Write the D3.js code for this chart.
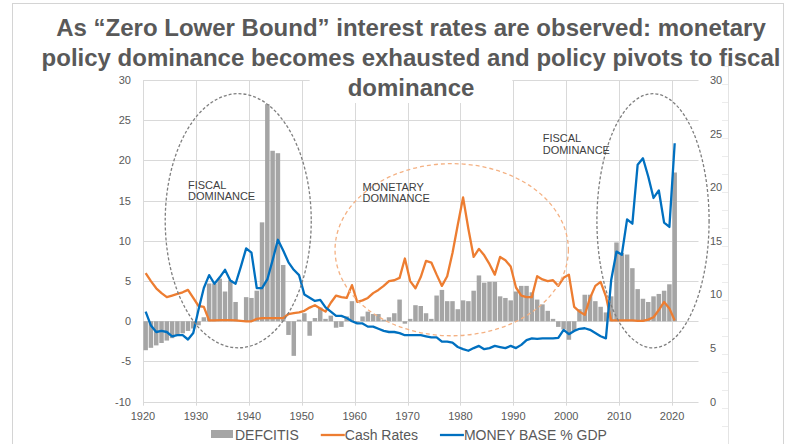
<!DOCTYPE html>
<html>
<head>
<meta charset="utf-8">
<script src="https://cdn.jsdelivr.net/npm/d3@7"></script>
<style>
  body { margin: 0; background: #fff; }
  svg { display: block; font-family: "Liberation Sans", Arial, sans-serif; }
</style>
</head>
<body>
<svg id="chart" width="795" height="444"></svg>
<script>
// ---- data ----
const years = d3.range(1920, 2021);

// federal deficit, % GDP (left axis), 1920..2020
const deficits = [
  -3.6, -3.3, -3.0, -2.7, -2.4, -2.1, -1.8, -1.5, -1.2, -0.9,
  -0.5, 0.5, 4.7, 4.7, 5.3, 3.7, 5.1, 2.4, 0.1, 3.0,
  2.9, 3.8, 12.3, 27.0, 21.2, 20.9, 7.0, -1.7, -4.3, 0.2,
  1.0, -1.8, 0.4, 1.7, 0.3, 0.7, -0.8, -0.7, 0.6, 2.5,
  -0.1, 0.6, 1.2, 0.9, 0.9, 0.2, 0.5, 1.0, 2.7, -0.3,
  0.3, 2.0, 1.9, 1.0, 0.3, 3.2, 3.9, 2.5, 2.5, 1.5,
  2.6, 2.5, 3.8, 5.7, 4.8, 4.9, 4.9, 3.1, 2.9, 2.6,
  3.7, 4.4, 4.4, 3.6, 2.7, 2.1, 1.3, 0.3, -0.7, -1.0,
  -2.3, -1.2, 1.5, 3.3, 3.3, 2.5, 1.8, 1.1, 3.1, 9.8,
  8.5, 8.3, 6.6, 4.0, 2.8, 2.4, 3.1, 3.4, 3.8, 4.6,
  18.5
];

// cash rate, % (left axis)
const cashRates = [
  6.0, 5.0, 4.1, 3.5, 3.0, 3.2, 3.4, 3.6, 3.9, 2.9,
  1.9, 1.8, 0.1, 0.1, 0.15, 0.15, 0.15, 0.1, 0.05, 0.0,
  0.0, 0.3, 0.4, 0.4, 0.4, 0.4, 0.4, 0.9, 1.0, 1.1,
  1.3, 1.7, 2.0, 1.6, 1.2, 2.3, 3.2, 3.0, 2.9, 4.5,
  2.4, 2.6, 2.9, 3.5, 3.9, 4.4, 5.0, 5.1, 5.4, 7.8,
  5.0, 4.1, 5.5, 7.5, 7.3, 5.8, 4.4, 5.6, 8.5, 12.0,
  15.4, 11.5, 8.0, 9.0, 8.2, 7.1, 5.8, 8.0, 7.6, 6.8,
  4.2, 3.2, 3.0, 3.0, 5.6, 5.2, 5.0, 5.1, 4.4, 5.4,
  5.8, 1.8, 1.2, 0.8, 2.9, 4.4, 4.9, 3.1, 0.1, 0.1,
  0.1, 0.1, 0.1, 0.05, 0.05, 0.2, 0.5, 1.4, 2.4, 1.6,
  0.1
];

// money base, % GDP (right axis)
const moneyBase = [
  8.4, 7.1, 6.5, 6.6, 6.5, 6.1, 6.2, 6.2, 5.8, 6.4,
  8.6, 10.6, 11.8, 11.0, 11.6, 12.3, 11.3, 11.0, 12.6, 14.3,
  13.9, 10.6, 10.6, 11.4, 13.2, 15.1, 14.1, 13.0, 12.3, 11.8,
  10.0, 9.7, 9.4, 9.5, 8.8, 8.4, 8.0, 8.0, 7.8, 7.5,
  7.3, 7.3, 7.0, 7.0, 6.8, 6.6, 6.5, 6.5, 6.4, 6.2,
  6.2, 6.2, 6.2, 6.1, 6.0, 6.0, 5.6, 5.6, 5.5, 5.1,
  4.9, 4.75, 5.0, 5.2, 4.9, 5.0, 5.2, 5.1, 5.0, 5.2,
  5.0, 5.3, 5.75, 5.9, 5.85, 5.9, 5.9, 5.9, 5.95, 6.7,
  6.3, 6.6, 6.8, 6.85, 6.7, 6.4, 6.1, 5.9, 11.35, 14.0,
  13.7, 17.0, 16.6, 22.1, 22.7, 21.0, 19.0, 19.7, 16.7, 16.3,
  24.1
];

const leftTicks = [-10, -5, 0, 5, 10, 15, 20, 25, 30];
const rightTicks = [0, 5, 10, 15, 20, 25, 30];
const yearTicks = [1920, 1930, 1940, 1950, 1960, 1970, 1980, 1990, 2000, 2010, 2020];

const titleLines = [
  'As “Zero Lower Bound” interest rates are observed: monetary',
  'policy dominance becomes exhausted and policy pivots to fiscal',
  'dominance'
];

const seriesNames = ['DEFCITIS', 'Cash Rates', 'MONEY BASE % GDP'];

// regimes marked on the chart, in year / left-axis units
const regimes = [
  { cx: 1938.0, cy: 12.5, rx: 13.8, ry: 15.8, kind: 'fiscal' },
  { cx: 1978.35, cy: 8.9, rx: 22.05, ry: 10.7, kind: 'monetary' },
  { cx: 2016.4, cy: 12.5, rx: 10.6, ry: 15.8, kind: 'fiscal' }
];
const regimeNotes = [
  { year: 1928.5, value: 16.5, lines: ['FISCAL', 'DOMINANCE'] },
  { year: 1961.5, value: 16.25, lines: ['MONETARY', 'DOMINANCE'] },
  { year: 1995.55, value: 22.25, lines: ['FISCAL', 'DOMINANCE'] }
];

// ---- layout ----
const colors = { bar: '#a5a5a5', cash: '#ed7d31', base: '#0070c0', grid: '#d9d9d9', text: '#595959' };
const plot = { left: 143, right: 698.5, top: 80, bottom: 401.7 };

const svg = d3.select('#chart');

const x = d3.scaleLinear().domain([1920, 2025]).range([plot.left, plot.right]);
const yL = d3.scaleLinear().domain([-10, 30]).range([plot.bottom, plot.top]);
const yR = d3.scaleLinear().domain([0, 30]).range([plot.bottom, plot.top]);

// slide frame and ruler on the right
svg.append('rect')
  .attr('x', 12.5).attr('y', 3.5).attr('width', 771).attr('height', 460)
  .attr('fill', 'none').attr('stroke', '#d4d4d4');
svg.append('line')
  .attr('x1', 728.5).attr('x2', 728.5).attr('y1', 60).attr('y2', 444)
  .attr('stroke', '#e4e4e4');
svg.append('g').selectAll('line')
  .data(d3.range(66, 444, 18))
  .enter().append('line')
  .attr('x1', 722).attr('x2', 728)
  .attr('y1', (d) => d + 0.5).attr('y2', (d) => d + 0.5)
  .attr('stroke', '#ececec');

// grid
svg.append('g').selectAll('line')
  .data(leftTicks)
  .enter().append('line')
  .attr('x1', plot.left).attr('x2', plot.right)
  .attr('y1', (d) => Math.round(yL(d)) + 0.5).attr('y2', (d) => Math.round(yL(d)) + 0.5)
  .attr('stroke', colors.grid);

svg.append('g').selectAll('line')
  .data(yearTicks)
  .enter().append('line')
  .attr('x1', (d) => Math.round(x(d)) + 0.5).attr('x2', (d) => Math.round(x(d)) + 0.5)
  .attr('y1', plot.top).attr('y2', plot.bottom + 4)
  .attr('stroke', colors.grid);

// axis labels
svg.append('g').selectAll('text')
  .data(leftTicks)
  .enter().append('text')
  .attr('x', 131)
  .attr('y', (d) => yL(d) + 4)
  .attr('text-anchor', 'end')
  .attr('fill', colors.text)
  .style('font-size', '11px')
  .text((d) => d);

svg.append('g').selectAll('text')
  .data(rightTicks)
  .enter().append('text')
  .attr('x', 710)
  .attr('y', (d) => yR(d) + 4)
  .attr('fill', colors.text)
  .style('font-size', '11px')
  .text((d) => d);

svg.append('g').selectAll('text')
  .data(yearTicks)
  .enter().append('text')
  .attr('x', (d) => x(d))
  .attr('y', 420)
  .attr('text-anchor', 'middle')
  .attr('fill', colors.text)
  .style('font-size', '11px')
  .text((d) => d);

// bars
const step = x(1921) - x(1920);
svg.append('g').selectAll('rect')
  .data(years.map((yr, i) => ({ yr, v: deficits[i] })))
  .enter().append('rect')
  .attr('x', (d) => x(d.yr) + 0.4)
  .attr('width', step - 0.8)
  .attr('y', (d) => Math.min(yL(d.v), yL(0)))
  .attr('height', (d) => Math.abs(yL(d.v) - yL(0)))
  .attr('fill', colors.bar);

// lines
const cashLine = d3.line()
  .x((d, i) => x(years[i] + 0.5))
  .y((d) => yL(d));
const baseLine = d3.line()
  .x((d, i) => x(years[i] + 0.5))
  .y((d) => yR(d));

svg.append('path')
  .attr('d', cashLine(cashRates))
  .attr('fill', 'none')
  .attr('stroke', colors.cash)
  .attr('stroke-width', 2.3)
  .attr('stroke-linejoin', 'round');

svg.append('path')
  .attr('d', baseLine(moneyBase))
  .attr('fill', 'none')
  .attr('stroke', colors.base)
  .attr('stroke-width', 2.3)
  .attr('stroke-linejoin', 'round');

// regime ellipses and notes
svg.append('g').selectAll('ellipse')
  .data(regimes)
  .enter().append('ellipse')
  .attr('cx', (d) => x(d.cx))
  .attr('cy', (d) => yL(d.cy))
  .attr('rx', (d) => x(d.cx + d.rx) - x(d.cx))
  .attr('ry', (d) => yL(d.cy - d.ry) - yL(d.cy))
  .attr('fill', 'none')
  .attr('stroke', (d) => (d.kind === 'fiscal' ? '#7f7f7f' : '#f4b183'))
  .attr('stroke-width', 1.3)
  .attr('stroke-dasharray', (d) => (d.kind === 'fiscal' ? '3,2' : '4,3'));

const notes = svg.append('g').selectAll('text')
  .data(regimeNotes)
  .enter().append('text')
  .attr('x', (d) => x(d.year))
  .attr('y', (d) => yL(d.value))
  .attr('fill', '#404040')
  .style('font-size', '11px');
notes.selectAll('tspan')
  .data((d) => d.lines.map((t) => ({ t, x: x(d.year) })))
  .enter().append('tspan')
  .attr('x', (d) => d.x)
  .attr('dy', (d, i) => (i === 0 ? 0 : 11.5))
  .text((d) => d.t);

// title
const title = svg.append('g');
const lastLine = title.append('text')
  .attr('x', 411).attr('y', 96)
  .attr('text-anchor', 'middle')
  .attr('fill', colors.text)
  .style('font-size', '24px').style('font-weight', 'bold')
  .text(titleLines[2]);
const bb = lastLine.node().getBBox();
title.insert('rect', 'text')
  .attr('x', bb.x - 38).attr('y', bb.y - 1)
  .attr('width', bb.width + 76).attr('height', bb.height + 3)
  .attr('fill', '#fff');
title.selectAll('text.top')
  .data(titleLines.slice(0, 2))
  .enter().append('text')
  .attr('class', 'top')
  .attr('x', 411)
  .attr('y', (d, i) => 36 + i * 30)
  .attr('text-anchor', 'middle')
  .attr('fill', colors.text)
  .style('font-size', '24px').style('font-weight', 'bold')
  .text((d) => d);

// legend
const legend = svg.append('g');
let lx = 211;
const ly = 440;
seriesNames.forEach((name, i) => {
  if (i === 0) {
    legend.append('rect')
      .attr('x', lx).attr('y', ly - 10).attr('width', 22).attr('height', 8)
      .attr('fill', colors.bar);
  } else {
    legend.append('line')
      .attr('x1', lx).attr('x2', lx + 24)
      .attr('y1', ly - 5).attr('y2', ly - 5)
      .attr('stroke', i === 1 ? colors.cash : colors.base)
      .attr('stroke-width', 2.3);
  }
  const t = legend.append('text')
    .attr('x', lx + 24)
    .attr('y', ly)
    .attr('fill', colors.text)
    .style('font-size', '14px')
    .text(name);
  lx += 24 + t.node().getComputedTextLength() + 22;
});
</script>
</body>
</html>
